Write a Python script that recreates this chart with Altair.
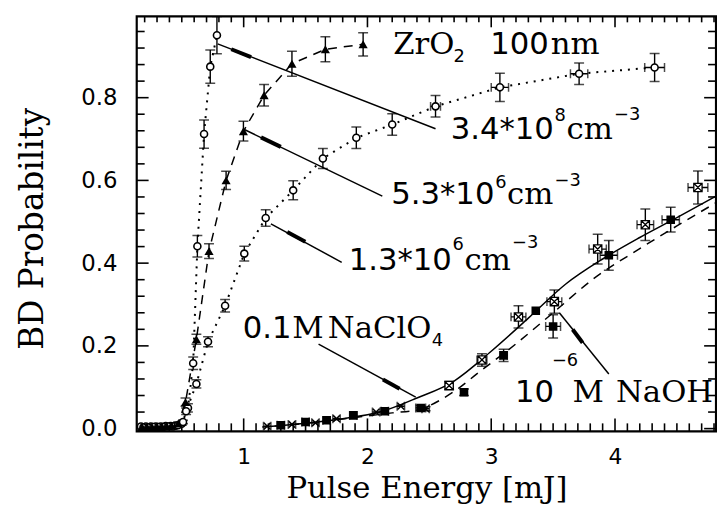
import altair as alt
import pandas as pd

W, H = 585, 419
X_DOMAIN = [0.136, 4.816]
Y_DOMAIN = [-0.0065, 0.9965]

# ---- series A: 3.4*10^8 cm^-3 (open circles, dotted)
a_x = [0.17, 0.21, 0.25, 0.29, 0.33, 0.37, 0.41, 0.45, 0.50, 0.55, 0.592, 0.626, 0.68, 0.73, 0.784]
a_y = [0.005, 0.005, 0.005, 0.005, 0.005, 0.006, 0.006, 0.007, 0.012, 0.05, 0.158, 0.441, 0.712, 0.875, 0.951]
a_ey = [0, 0, 0, 0, 0, 0, 0, 0, 0.004, 0.01, 0.015, 0.026, 0.034, 0.04, 0.045]
a_ex = [0] * 15

# ---- series B: 5.3*10^6 cm^-3, ZrO2 100nm (filled triangles, dashed)
b_x = [0.18, 0.22, 0.26, 0.30, 0.34, 0.38, 0.42, 0.47, 0.53, 0.618, 0.72, 0.858, 0.998, 1.165, 1.39, 1.66, 1.965]
b_y = [0.004, 0.004, 0.004, 0.005, 0.005, 0.006, 0.007, 0.012, 0.064, 0.216, 0.429, 0.600, 0.719, 0.806, 0.882, 0.917, 0.929]
b_ey = [0, 0, 0, 0, 0, 0, 0, 0.004, 0.01, 0.012, 0.018, 0.022, 0.024, 0.026, 0.03, 0.03, 0.028]
b_ex = [0] * 17

# ---- series C: 1.3*10^6 cm^-3 (open circles, dotted)
c_x = [0.19, 0.23, 0.27, 0.31, 0.35, 0.39, 0.43, 0.47, 0.51, 0.535, 0.618, 0.712, 0.85, 1.005, 1.178,
       1.40, 1.64, 1.91, 2.2, 2.55, 3.07, 3.71, 4.32]
c_y = [0.003, 0.003, 0.004, 0.004, 0.004, 0.005, 0.005, 0.008, 0.016, 0.042, 0.108, 0.21, 0.297, 0.423, 0.509,
       0.576, 0.653, 0.703, 0.735, 0.779, 0.825, 0.858, 0.873]
c_ey = [0, 0, 0, 0, 0, 0, 0, 0, 0.004, 0.008, 0.01, 0.012, 0.015, 0.018, 0.02,
        0.023, 0.024, 0.026, 0.026, 0.026, 0.034, 0.026, 0.034]
c_ex = [0] * 19 + [0.04, 0.07, 0.07, 0.08]

# ---- series D: 0.1M NaClO4 (crossed squares, solid curve)
d_x = [1.19, 1.39, 1.58, 1.75, 2.07, 2.27, 2.47, 2.66, 2.925, 3.22, 3.51, 3.86, 4.245, 4.67]
d_y = [0.006, 0.010, 0.014, 0.024, 0.040, 0.054, 0.048, 0.104, 0.166, 0.270, 0.307, 0.434, 0.493, 0.583]
d_ey = [0, 0, 0, 0, 0, 0, 0.005, 0.01, 0.015, 0.027, 0.028, 0.036, 0.038, 0.04]
d_ex = [0.03, 0.03, 0.03, 0.03, 0.03, 0.03, 0.03, 0.03, 0.04, 0.06, 0.06, 0.07, 0.067, 0.08]

# ---- series E: 10^-6 M NaOH (filled squares, dashed curve)
e_x = [1.30, 1.50, 1.67, 1.886, 2.14, 2.43, 2.78, 3.10, 3.36, 3.50, 3.95, 4.45]
e_y = [0.008, 0.016, 0.020, 0.032, 0.042, 0.050, 0.088, 0.177, 0.285, 0.247, 0.419, 0.505]
e_ey = [0, 0, 0, 0, 0, 0.006, 0.008, 0.015, 0, 0.028, 0.036, 0.03]
e_ex = [0.03, 0.03, 0.03, 0.03, 0.03, 0.04, 0, 0.03, 0, 0.06, 0.07, 0.07]

# ---- fit curves
solid_x = [1.15, 1.5, 1.8, 2.1, 2.4, 2.7, 3.0, 3.3, 3.6, 3.9, 4.2, 4.5, 4.816]
solid_y = [0.004, 0.013, 0.024, 0.040, 0.074, 0.115, 0.187, 0.267, 0.349, 0.41, 0.462, 0.51, 0.562]
dash_x = [1.25, 1.6, 1.9, 2.2, 2.4, 2.7, 2.9, 3.2, 3.5, 3.83, 4.2, 4.5, 4.816]
dash_y = [0.006, 0.016, 0.027, 0.038, 0.045, 0.09, 0.136, 0.205, 0.28, 0.363, 0.435, 0.49, 0.546]

# ---- annotation pointer lines
ann_x1 = [0.79, 1.005, 1.22, 1.605, 3.55]
ann_y1 = [0.93, 0.723, 0.495, 0.204, 0.28]
ann_x2 = [2.55, 2.12, 1.792, 2.39, 3.95]
ann_y2 = [0.725, 0.562, 0.402, 0.076, 0.132]
thk_x1 = [0.90, 1.14, 1.352, 2.125, 3.658]
thk_y1 = [0.917, 0.704, 0.475, 0.1185, 0.2395]
thk_x2 = [1.06, 1.30, 1.498, 2.26, 3.738]
thk_y2 = [0.898, 0.681, 0.452, 0.0965, 0.2075]

# ---- label fragments (left edge, baseline)
sans_txt = ["3.4*10", "8", "\u22123", "5.3*10", "6", "\u22123", "1.3*10", "6", "\u22123",
            "0.1", "4", "10", "\u22126", "2", "100"]
sans_x = [2.672, 3.512, 3.992, 2.192, 3.032, 3.512, 1.848, 2.688, 3.168,
          0.992, 2.52, 3.192, 3.49, 2.696, 2.992]
sans_y = [0.6994, 0.7425, 0.7449, 0.5437, 0.582, 0.5868, 0.3832, 0.4311, 0.4359,
          0.218, 0.1988, 0.0647, 0.1509, 0.8862, 0.9054]
sans_sz = [31, 18, 18, 31, 18, 18, 31, 18, 18, 31, 18, 31, 18, 18, 31]

serif_txt = ["cm", "cm", "cm", "M", "NaClO", "M", "NaOH", "ZrO", "nm"]
serif_x = [3.608, 3.128, 2.784, 1.392, 1.68, 3.656, 4.008, 2.208, 3.48]
serif_y = [0.6994, 0.5437, 0.3832, 0.218, 0.218, 0.0647, 0.0647, 0.9054, 0.9054]
serif_sz = [31, 31, 31, 31, 31, 31, 31, 31, 31]

# ---- axis tick positions
x_major = [1, 2, 3, 4]
x_minor = [round(0.2 + 0.1 * i, 1) for i in range(47) if round(0.2 + 0.1 * i, 1) not in (1.0, 2.0, 3.0, 4.0)]
y_major = [0.0, 0.2, 0.4, 0.6, 0.8]
y_minor = [round(0.04 * i, 2) for i in range(1, 25) if i % 5 != 0]

SERIF = "DejaVu Serif"
SANS = "DejaVu Sans"

xs = alt.Scale(domain=X_DOMAIN, nice=False, zero=False)
ys = alt.Scale(domain=Y_DOMAIN, nice=False, zero=False)
xaxis = alt.Axis(values=x_major, format="d", title="Pulse Energy [mJ]", grid=False, ticks=False, tickSize=0,
                 domain=False, labelFont=SANS, labelFontSize=22, labelColor="black", labelPadding=16,
                 titleFont=SERIF, titleFontSize=31, titleFontWeight="normal", titleColor="black",
                 titleY=67, titleBaseline="alphabetic")
yaxis = alt.Axis(values=y_major, format=".1f", title="BD Probability", grid=False, ticks=False, tickSize=0,
                 domain=False, labelFont=SANS, labelFontSize=23, labelColor="black", labelPadding=20,
                 titleFont=SERIF, titleFontSize=33, titleFontWeight="normal", titleColor="black",
                 titleAngle=-90, titleX=-95, titleY=214, titleAlign="center", titleBaseline="alphabetic")


def X(f="x"):
    return alt.X(f + ":Q", scale=xs, axis=xaxis)


def Y(f="y"):
    return alt.Y(f + ":Q", scale=ys, axis=yaxis)


def sdf(name, xv, yv, eyv, exv):
    return pd.DataFrame({"s": name, "x": xv, "y": yv, "ey": eyv, "ex": exv})


dA = sdf("A", a_x, a_y, a_ey, a_ex)
dB = sdf("B", b_x, b_y, b_ey, b_ex)
dC = sdf("C", c_x, c_y, c_ey, c_ex)
dD = sdf("D", d_x, d_y, d_ey, d_ex)
dE = sdf("E", e_x, e_y, e_ey, e_ex)
allp = pd.concat([dA, dB, dC, dD, dE], ignore_index=True)
allp["ylo"] = allp["y"] - allp["ey"]
allp["yhi"] = allp["y"] + allp["ey"]
allp["xlo"] = allp["x"] - allp["ex"]
allp["xhi"] = allp["x"] + allp["ex"]
vbars = allp[allp["ey"] > 0]
hbars = allp[allp["ex"] > 0]

layers = []

# inward ticks
tx_maj = pd.DataFrame({"x": x_major})
tx_min = pd.DataFrame({"x": x_minor})
ty_maj = pd.DataFrame({"y": y_major})
ty_min = pd.DataFrame({"y": y_minor})
for df, ln in ((tx_maj, 13), (tx_min, 8)):
    layers.append(alt.Chart(df).mark_rule(color="black", strokeWidth=1.6).encode(
        x=X(), y=alt.value(H), y2=alt.value(H - ln)))
for df, ln in ((tx_maj, 11), (tx_min, 6)):
    layers.append(alt.Chart(df).mark_rule(color="black", strokeWidth=1.6).encode(
        x=X(), y=alt.value(0), y2=alt.value(ln)))
for df, ln in ((ty_maj, 12), (ty_min, 8)):
    layers.append(alt.Chart(df).mark_rule(color="black", strokeWidth=1.6).encode(
        y=Y(), x=alt.value(0), x2=alt.value(ln)))
    layers.append(alt.Chart(df).mark_rule(color="black", strokeWidth=1.6).encode(
        y=Y(), x=alt.value(W), x2=alt.value(W - ln)))

# connecting lines
layers.append(alt.Chart(dA).mark_line(color="black", strokeWidth=2, strokeDash=[2, 6], clip=True).encode(x=X(), y=Y()))
layers.append(alt.Chart(dC).mark_line(color="black", strokeWidth=2, strokeDash=[2, 6], clip=True).encode(x=X(), y=Y()))
layers.append(alt.Chart(dB).mark_line(color="black", strokeWidth=1.5, strokeDash=[9, 7], clip=True).encode(x=X(), y=Y()))
layers.append(alt.Chart(pd.DataFrame({"x": solid_x, "y": solid_y})).mark_line(
    color="black", strokeWidth=1.5, interpolate="monotone", clip=True).encode(x=X(), y=Y()))
layers.append(alt.Chart(pd.DataFrame({"x": dash_x, "y": dash_y})).mark_line(
    color="black", strokeWidth=1.5, strokeDash=[9, 7], interpolate="monotone", clip=True).encode(x=X(), y=Y()))

# error bars
layers.append(alt.Chart(vbars).mark_rule(color="black", strokeWidth=1.4, clip=True).encode(
    x=X(), y=Y("ylo"), y2="yhi:Q"))
layers.append(alt.Chart(vbars).mark_tick(color="black", orient="horizontal", size=10, thickness=1.5, clip=True).encode(
    x=X(), y=Y("ylo")))
layers.append(alt.Chart(vbars).mark_tick(color="black", orient="horizontal", size=10, thickness=1.5, clip=True).encode(
    x=X(), y=Y("yhi")))
layers.append(alt.Chart(hbars).mark_rule(color="black", strokeWidth=1.4, clip=True).encode(
    y=Y(), x=X("xlo"), x2="xhi:Q"))
layers.append(alt.Chart(hbars).mark_tick(color="black", orient="vertical", size=9, thickness=1.5, clip=True).encode(
    y=Y(), x=X("xlo")))
layers.append(alt.Chart(hbars).mark_tick(color="black", orient="vertical", size=9, thickness=1.5, clip=True).encode(
    y=Y(), x=X("xhi")))

# markers
circ = pd.concat([dA, dC], ignore_index=True)
layers.append(alt.Chart(circ).mark_point(shape="circle", filled=True, fill="white", stroke="black",
                                         strokeWidth=1.6, size=50, opacity=1, clip=True).encode(x=X(), y=Y()))
layers.append(alt.Chart(dB).mark_point(shape="triangle-up", filled=True, color="black", size=85,
                                       opacity=1, clip=True).encode(x=X(), y=Y()))
layers.append(alt.Chart(dE).mark_point(shape="square", filled=True, color="black", size=75,
                                       opacity=1, clip=True).encode(x=X(), y=Y()))
dD_small = dD[dD["x"] < 2.6]
dD_big = dD[dD["x"] >= 2.6]
layers.append(alt.Chart(dD_small).mark_point(shape="M-1,-1L1,1M-1,1L1,-1", filled=False, color="black",
                                             strokeWidth=1.5, size=45, opacity=1, clip=True).encode(x=X(), y=Y()))
layers.append(alt.Chart(dD_big).mark_point(shape="M-1,-1L1,1M-1,1L1,-1M-1,-1L1,-1L1,1L-1,1Z", filled=False,
                                           fill="white", fillOpacity=1, color="black",
                                           strokeWidth=1.3, size=70, opacity=1, clip=True).encode(x=X(), y=Y()))

# annotation pointers
ann = pd.DataFrame({"x": ann_x1, "y": ann_y1, "x2": ann_x2, "y2": ann_y2})
thk = pd.DataFrame({"x": thk_x1, "y": thk_y1, "x2": thk_x2, "y2": thk_y2})
layers.append(alt.Chart(ann).mark_rule(color="black", strokeWidth=1.5).encode(x=X(), y=Y(), x2="x2:Q", y2="y2:Q"))
layers.append(alt.Chart(thk).mark_rule(color="black", strokeWidth=4).encode(x=X(), y=Y(), x2="x2:Q", y2="y2:Q"))

# labels
sans_df = pd.DataFrame({"t": sans_txt, "x": sans_x, "y": sans_y, "sz": sans_sz})
serif_df = pd.DataFrame({"t": serif_txt, "x": serif_x, "y": serif_y, "sz": serif_sz})
layers.append(alt.Chart(sans_df).mark_text(font=SANS, align="left", baseline="alphabetic", color="black").encode(
    x=X(), y=Y(), text="t:N", size=alt.Size("sz:Q", scale=None, legend=None)))
layers.append(alt.Chart(serif_df).mark_text(font=SERIF, align="left", baseline="alphabetic", color="black").encode(
    x=X(), y=Y(), text="t:N", size=alt.Size("sz:Q", scale=None, legend=None)))

chart = alt.layer(*layers).properties(
    width=W, height=H,
    autosize=alt.AutoSizeParams(type="none"),
    padding={"left": 130, "top": 6, "right": 1, "bottom": 76},
    background="white",
).configure_view(stroke="black", strokeWidth=2.2)

chart.save("out.html", embed_options={"renderer": "svg", "actions": False})
